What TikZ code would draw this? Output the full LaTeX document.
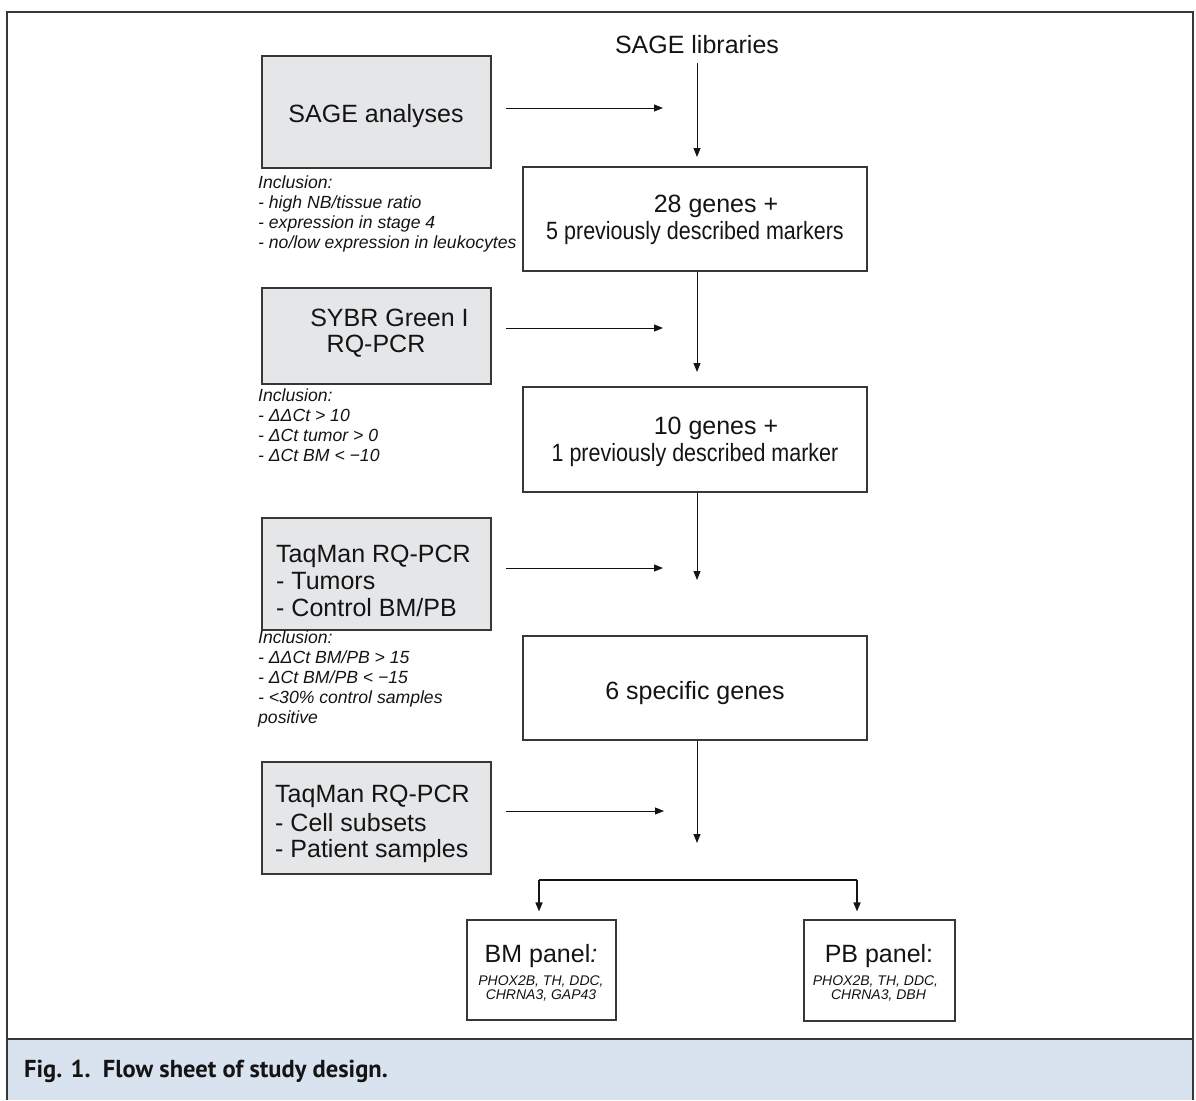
\documentclass[tikz,border=0pt]{standalone}
\usepackage{fontspec}
\setmainfont{Liberation Sans}
\newfontfamily\capfont{PT Sans}
\usetikzlibrary{arrows.meta}
\definecolor{boxgray}{RGB}{229,230,232}
\definecolor{capblue}{RGB}{217,226,239}
\definecolor{linegray}{RGB}{55,55,55}
\definecolor{txt}{RGB}{20,20,20}
\begin{document}
\begin{tikzpicture}[x=1pt,y=-1pt,
  graybox/.style={draw=linegray, line width=1.3pt, fill=boxgray, inner sep=0pt, rectangle},
  whitebox/.style={draw=linegray, line width=1.1pt, fill=white, inner sep=0pt, rectangle},
  arr/.style={-{Triangle[length=9pt,width=7pt]}, line width=1pt, draw=txt},
  big/.style={font=\fontsize{25}{27}\selectfont, text=txt, inner sep=0pt},
  incl/.style={font=\fontsize{17.6}{20}\selectfont\itshape, text=txt, inner sep=0pt, anchor=base west},
  gene/.style={font=\fontsize{14}{15}\selectfont\itshape, text=txt, inner sep=0pt, anchor=base},
]
\useasboundingbox (0,0) rectangle (1196,1100);
\fill[capblue] (7,1039) rectangle (1193,1100);
\draw[linegray, line width=2.2pt] (7,1100) -- (7,12) -- (1193,12) -- (1193,1100);
\draw[linegray, line width=2.2pt] (7,1039) -- (1193,1039);

% gray boxes
\node[graybox, minimum width=229pt, minimum height=112pt] (sageA) at (376.5,112) {};
\node[graybox, minimum width=229pt, minimum height=96pt] (sybr) at (376.5,336) {};
\node[graybox, minimum width=229pt, minimum height=112pt] (taqA) at (376.5,574) {};
\node[graybox, minimum width=229pt, minimum height=112pt] (taqB) at (376.5,818) {};

% white boxes
\node[whitebox, minimum width=344pt, minimum height=104pt] (g28) at (695,219) {};
\node[whitebox, minimum width=344pt, minimum height=105pt] (g10) at (695,439.5) {};
\node[whitebox, minimum width=344pt, minimum height=104pt] (g6) at (695,688) {};
\node[whitebox, minimum width=149pt, minimum height=100pt] (bm) at (541.5,970) {};
\node[whitebox, minimum width=151pt, minimum height=101pt] (pb) at (879.5,970.5) {};

% texts
\node[big, anchor=base] (lib) at (697,53) {SAGE libraries};
\node[big, anchor=base] (tsage) at (376,122) {SAGE analyses};
\node[big, anchor=base] (tsybr1) at (389.5,326) {SYBR Green I};
\node[big, anchor=base] (tsybr2) at (376,352) {RQ-PCR};
\node[big, anchor=base west] (tqa1) at (276,562) {TaqMan RQ-PCR};
\node[big, anchor=base west] (tqa2) at (276,589) {- Tumors};
\node[big, anchor=base west] (tqa3) at (276,616) {- Control BM/PB};
\node[big, anchor=base west] (tqb1) at (275,802) {TaqMan RQ-PCR};
\node[big, anchor=base west] (tqb2) at (275,831) {- Cell subsets};
\node[big, anchor=base west] (tqb3) at (275,857) {- Patient samples};
\node[big, anchor=base] (t28a) at (716,212) {28 genes +};
\node[big, anchor=base] (t28b) at (695,239) {\scalebox{0.86}[1]{5 previously described markers}};
\node[big, anchor=base] (t10a) at (716,434) {10 genes +};
\node[big, anchor=base] (t10b) at (695,461) {\scalebox{0.86}[1]{1 previously described marker}};
\node[big, anchor=base] (t6) at (695,699) {6 specific genes};
\node[big, anchor=base] (tbm) at (541,962) {BM panel\textit{:}};
\node[gene] (tbm1) at (541,985) {PHOX2B, TH, DDC,};
\node[gene] (tbm2) at (541,999.5) {CHRNA3, GAP43};
\node[big, anchor=base] (tpb) at (879,962) {PB panel:};
\node[gene] (tpb1) at (875.5,985) {PHOX2B, TH, DDC,};
\node[gene] (tpb2) at (878.5,999.5) {CHRNA3, DBH};

% inclusion criteria
\node[incl] (ia1) at (258,188) {Inclusion:};
\node[incl] (ia2) at (258,208) {- high NB/tissue ratio};
\node[incl] (ia3) at (258,228) {- expression in stage 4};
\node[incl] (ia4) at (258,248) {- no/low expression in leukocytes};
\node[incl] (ib1) at (258,401) {Inclusion:};
\node[incl] (ib2) at (258,421) {- ΔΔCt > 10};
\node[incl] (ib3) at (258,441) {- ΔCt tumor > 0};
\node[incl] (ib4) at (258,461) {- ΔCt BM < −10};
\node[incl] (ic1) at (258,643) {Inclusion:};
\node[incl] (ic2) at (258,663) {- ΔΔCt BM/PB > 15};
\node[incl] (ic3) at (258,683) {- ΔCt BM/PB < −15};
\node[incl] (ic4) at (258,703) {- <30\% control samples};
\node[incl] (ic5) at (258,723) {positive};

% caption
\node[font=\capfont\bfseries\fontsize{24.5}{28}\selectfont, text=txt, anchor=base west, inner sep=0pt] (cap) at (24,1077) {Fig. 1.\ \ Flow sheet of study design.};

% connector end points
\coordinate (h1) at (663,108);
\coordinate (h2) at (663,328);
\coordinate (h3) at (663,568);
\coordinate (h4) at (664,811);
\coordinate (v1) at (697,157);
\coordinate (v2) at (697,372);
\coordinate (v3) at (697,580);
\coordinate (v4) at (697,843);
\coordinate (brL) at (539,880);
\coordinate (brR) at (857,880);

% horizontal arrows
\draw[arr] (sageA.east |- h1) ++(14,0) -- (h1);
\draw[arr] (sybr.east |- h2) ++(14,0) -- (h2);
\draw[arr] (taqA.east |- h3) ++(14,0) -- (h3);
\draw[arr] (taqB.east |- h4) ++(14,0) -- (h4);

% vertical arrows
\draw[arr] (lib.south -| v1) ++(0,10) -- (v1);
\draw[arr] (g28.south -| v2) -- (v2);
\draw[arr] (g10.south -| v3) -- (v3);
\draw[arr] (g6.south -| v4) -- (v4);

% bracket
\draw[line width=1.8pt, draw=txt] (brL) -- (brR);
\draw[arr, line width=1.5pt, shorten >=8pt] (brL) -- (bm.north -| brL);
\draw[arr, line width=1.5pt, shorten >=8pt] (brR) -- (pb.north -| brR);
\end{tikzpicture}
\end{document}
